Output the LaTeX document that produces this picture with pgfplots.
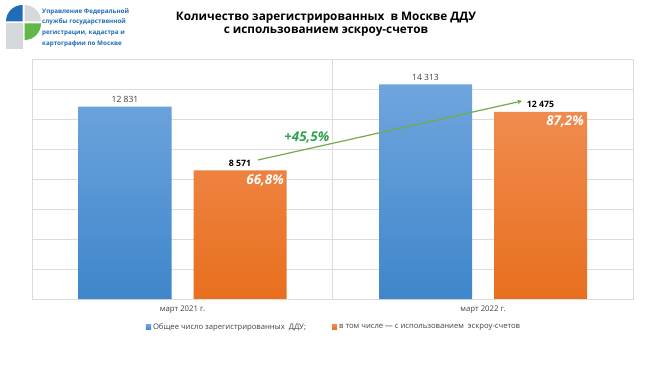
\documentclass[border=0pt]{standalone}
\usepackage{fontspec}
\setmainfont{Open Sans}
\usepackage{pgfplots}
\pgfplotsset{compat=1.18}
\definecolor{blueTop}{HTML}{6FA5DD}
\definecolor{blueBot}{HTML}{3F86CB}
\definecolor{blueMid}{HTML}{5B9BD5}
\definecolor{orTop}{HTML}{F08B4E}
\definecolor{orBot}{HTML}{E86F1E}
\definecolor{orMid}{HTML}{ED7D31}
\definecolor{gridc}{HTML}{DCDCDC}
\definecolor{arrowg}{HTML}{70AD47}
\definecolor{textg}{HTML}{2EA24F}
\definecolor{logoBlue}{HTML}{1F6DB8}
\definecolor{logoGreen}{HTML}{5FB848}
\definecolor{logoGray}{HTML}{D5D9DC}
\definecolor{txt}{HTML}{404040}
\begin{document}
\begin{tikzpicture}
\useasboundingbox (0bp,0bp) rectangle (650bp,367bp);
\fill[white] (0bp,0bp) rectangle (650bp,367bp);
% logo
\fill[logoBlue] (22.5bp,345.5bp) -- (6bp,345.5bp) arc[start angle=180,end angle=90,radius=16.5bp] -- cycle;
\fill[logoGray] (24.5bp,345.5bp) -- (24.5bp,362bp) arc[start angle=90,end angle=0,radius=16.5bp] -- cycle;
\fill[logoGreen] (24.5bp,343.5bp) -- (41bp,343.5bp) arc[start angle=0,end angle=-90,radius=16.5bp] -- cycle;
\fill[logoGray] (6bp,343.5bp) rectangle (22.5bp,318bp);
\node[anchor=north west, align=left, text=logoBlue, font=\fontsize{6.3}{10.8}\selectfont\bfseries, inner sep=0] at (42bp,359bp)
 {Управление Федеральной\\службы государственной\\регистрации, кадастра и\\картографии по Москве};
% title
\node[font=\fontsize{11.8}{13.2}\selectfont\bfseries, align=center, inner sep=0] at (326bp,343bp)
 {Количество зарегистрированных~ в Москве ДДУ\\с использованием эскроу-счетов};
\begin{axis}[
 at={(182.5bp,68bp)}, anchor=origin,
 scale only axis, width=601bp, height=240bp,
 xmin=-0.5, xmax=1.5, ymin=0, ymax=16000,
 ytick={0,2000,...,16000}, yticklabels={}, scaled y ticks=false,
 ymajorgrids, grid style={gridc, line width=0.6bp},
 major tick length=0,
 xtick={0,1}, xticklabels={март 2021 г., март 2022 г.},
 x tick label style={font=\fontsize{7.8}{9}\selectfont, text=txt, yshift=-3bp},
 extra x ticks={0.5}, extra x tick labels={},
 extra x tick style={xmajorgrids=true, major tick length=0},
 axis line style={gridc, line width=0.6bp},
 clip=false,
 ybar, bar width=93bp,
 point meta=explicit symbolic,
 nodes near coords,
 legend columns=2,
 legend style={at={(0.502,-0.1167)}, anchor=center, draw=none, fill=none,
   font=\fontsize{7.7}{9}\selectfont, text=txt,
   /tikz/every even column/.append style={column sep=24bp}},
]
\addplot[draw=none, top color=blueTop, bottom color=blueBot, bar shift=-57.5bp,
  every node near coord/.append style={font=\fontsize{8.6}{10}\selectfont, text=txt, yshift=0.5bp},
  legend image code/.code={\fill[blueMid] (0bp,-2.6bp) rectangle (5.2bp,2.6bp);}]
 coordinates {(0,12831) [12 831] (1,14313) [14 313]};
\addlegendentry{Общее число зарегистрированных~ ДДУ;}
\addplot[draw=none, top color=orTop, bottom color=orBot, bar shift=57.5bp,
  every node near coord/.append style={font=\fontsize{8.8}{10}\selectfont\bfseries, text=black, yshift=0.5bp},
  legend image code/.code={\fill[orMid] (0bp,-2.6bp) rectangle (5.2bp,2.6bp);}]
 coordinates {(0,8571) [8 571] (1,12475) [12 475]};
\addlegendentry{в том числе — с использованием~ эскроу-счетов}
\draw[arrowg, line width=1.2bp, -stealth] (axis cs:0.251,9267) -- (axis cs:1.130,13200);
\node[text=textg, font=\fontsize{13.5}{15}\selectfont\bfseries\itshape] at (axis cs:0.414,10800) {+45,5\%};
\node[anchor=north east, text=white, font=\fontsize{13.5}{15}\selectfont\bfseries\itshape, inner sep=0] at (axis cs:0.338,8300) {66,8\%};
\node[anchor=north east, text=white, font=\fontsize{13.5}{15}\selectfont\bfseries\itshape, inner sep=0] at (axis cs:1.336,12200) {87,2\%};
\end{axis}
\end{tikzpicture}
\end{document}
